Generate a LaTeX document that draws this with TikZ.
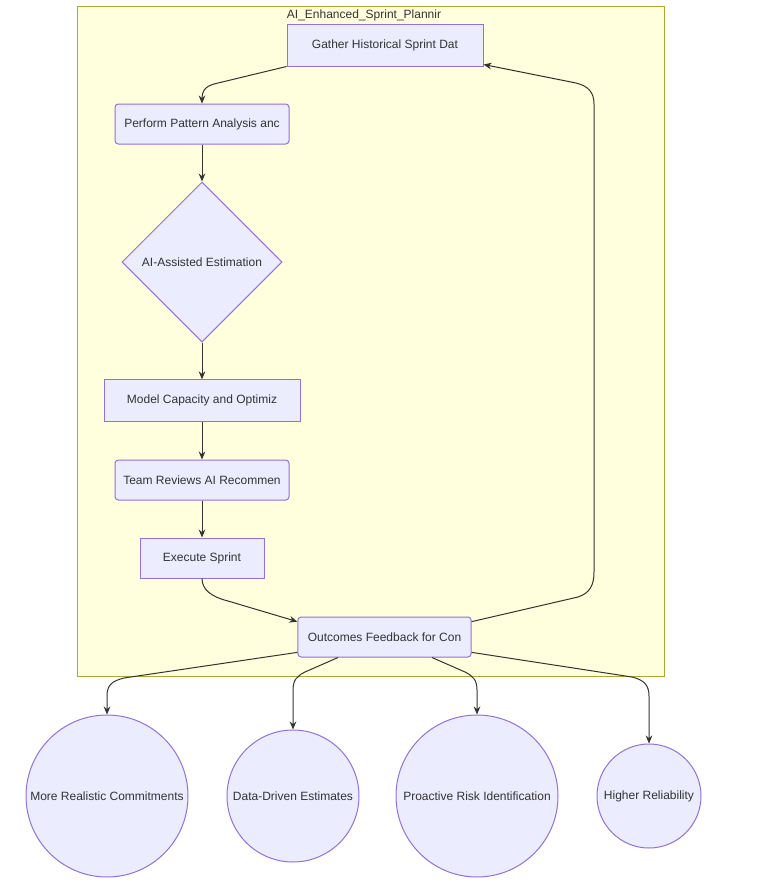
\documentclass[tikz,border=0pt]{standalone}
\usepackage{fontspec}
\setmainfont{Liberation Sans}
\usetikzlibrary{shapes.geometric,arrows.meta,calc}
\definecolor{nodefill}{HTML}{ECECFF}
\definecolor{nodeline}{HTML}{9370DB}
\definecolor{clfill}{HTML}{FFFFDE}
\definecolor{clline}{HTML}{AAAA33}
\definecolor{txt}{HTML}{333333}
\definecolor{edge}{HTML}{333333}
\begin{document}
\begin{tikzpicture}[x=0.75pt,y=-0.75pt,
  every node/.style={font=\fontsize{9}{11}\selectfont,text=txt},
  box/.style={draw=nodeline,fill=nodefill,line width=0.75pt,rectangle,inner sep=0pt},
  rbox/.style={box,rounded corners=2.5pt},
  dia/.style={draw=nodeline,fill=nodefill,line width=0.75pt,diamond,inner sep=0pt,minimum width=120pt,minimum height=120pt},
  circ/.style={draw=nodeline,fill=nodefill,line width=0.75pt,circle,inner sep=0pt},
  arr/.style={draw=edge,line width=0.75pt,-{Stealth[length=6pt,width=5pt]}}]
\useasboundingbox (0,0) rectangle (761,885);
\fill[white] (0,0) rectangle (761,885);
% cluster
\draw[fill=clfill,draw=clline,line width=0.75pt] (77,6) rectangle (664,676);
\node (title) at (364,15) {AI\_Enhanced\_Sprint\_Plannir};
% nodes
\node[box,minimum width=147pt,minimum height=31.5pt] (g) at (385,45) {Gather Historical Sprint Dat};
\node[rbox,minimum width=130.5pt,minimum height=30pt] (p) at (202,124) {Perform Pattern Analysis anc};
\node[dia] (d) at (202,262) {AI-Assisted Estimation};
\node[box,minimum width=147pt,minimum height=31pt] (m) at (202,400.5) {Model Capacity and Optimiz};
\node[rbox,minimum width=130.5pt,minimum height=30pt] (t) at (202,480) {Team Reviews AI Recommen};
\node[box,minimum width=93pt,minimum height=30pt] (e) at (202,558) {Execute Sprint};
\node[rbox,minimum width=130pt,minimum height=30pt] (o) at (384.5,637) {Outcomes Feedback for Con};
\node[circ,minimum size=121.5pt] (c1) at (107,796) {More Realistic Commitments};
\node[circ,minimum size=99pt] (c2) at (293,796) {Data-Driven Estimates};
\node[circ,minimum size=121.5pt] (c3) at (477,796) {Proactive Risk Identification};
\node[circ,minimum size=78pt] (c4) at (649,796) {Higher Reliability};
% edges
\draw[arr] (g.south west) -- (214,84) .. controls (204,87) and (202,92) .. (p.north);
\draw[arr] (p.south) -- (d.north);
\draw[arr] (d.south) -- (m.north);
\draw[arr] (m.south) -- (t.north);
\draw[arr] (t.south) -- (e.north);
\draw[arr] (e.south) .. controls (202,590) and (212,597) .. (228,601) -- (o.170);
\draw[arr] (o.10) -- (578,597) .. controls (590,593) and (594,585) .. (594,572) -- (594,104) .. controls (594,92) and (588,86) .. (576,83) -- ($(g.south east)+(0,-2)$);
\draw[arr] (o.190) -- (124,678) .. controls (112,681) and (107,685) .. (107,696) -- (c1.north);
\coordinate (o2) at ($(o.south)+(-46.5,0)$);
\coordinate (o3) at ($(o.south)+(47.5,0)$);
\draw[arr] (o2) -- (305,672) .. controls (297,676) and (293,680) .. (293,690) -- (c2.north);
\draw[arr] (o3) -- (465,672) .. controls (473,676) and (477,680) .. (477,690) -- (c3.north);
\draw[arr] (o.-10) -- (632,677) .. controls (644,680) and (649,685) .. (649,696) -- (c4.north);
\end{tikzpicture}
\end{document}
